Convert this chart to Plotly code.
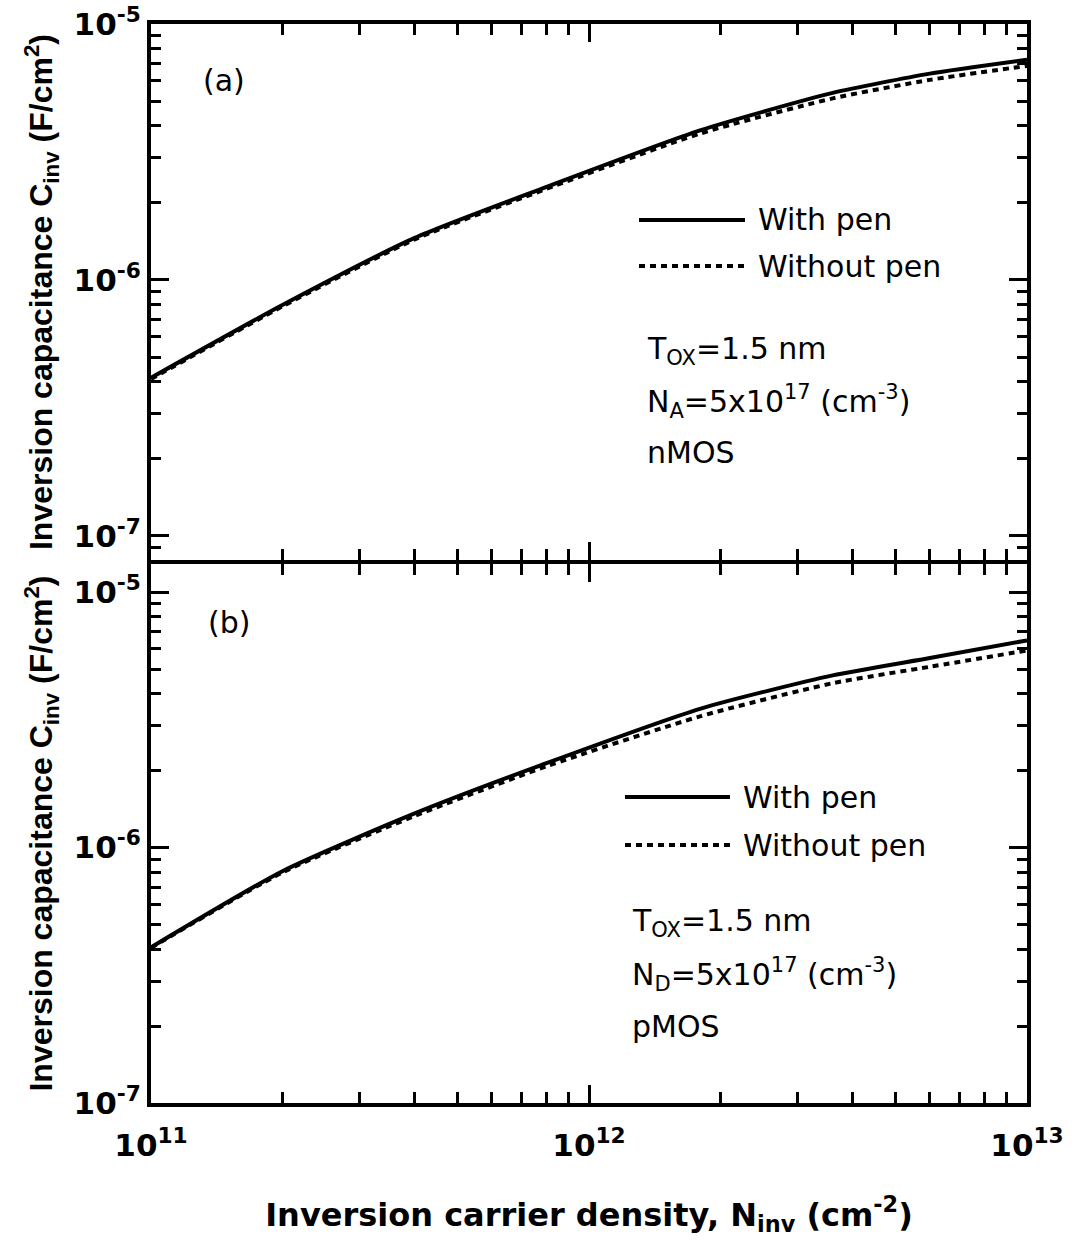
import plotly.graph_objects as go
from plotly.subplots import make_subplots

# Inversion carrier density (cm^-2)
n_inv = [1e11, 2e11, 4e11, 8e11, 1.8e12, 3.6e12, 6e12, 1e13]

# (a) nMOS, N_A = 5e17 cm^-3
c_nmos_with = [4.15e-7, 8.0e-7, 1.46e-6, 2.31e-6, 3.85e-6, 5.38e-6, 6.4e-6, 7.25e-6]
c_nmos_without = [4.1e-7, 7.9e-7, 1.44e-6, 2.27e-6, 3.74e-6, 5.12e-6, 6.05e-6, 6.86e-6]

# (b) pMOS, N_D = 5e17 cm^-3
c_pmos_with = [4.07e-7, 8.1e-7, 1.36e-6, 2.14e-6, 3.5e-6, 4.72e-6, 5.52e-6, 6.47e-6]
c_pmos_without = [4.05e-7, 8.0e-7, 1.33e-6, 2.08e-6, 3.27e-6, 4.4e-6, 5.1e-6, 5.91e-6]

y_tickvals = [1e-7, 1e-6, 1e-5]
y_ticktext = ["<b>10<sup>-7</sup></b>", "<b>10<sup>-6</sup></b>", "<b>10<sup>-5</sup></b>"]
x_tickvals = [1e11, 1e12, 1e13]
x_ticktext = ["<b>10<sup>11</sup></b>", "<b>10<sup>12</sup></b>", "<b>10<sup>13</sup></b>"]

W, H = 1083, 1244
ML, MR, MT, MB = 151, 56, 24, 141
PW, PH = W - ML - MR, H - MT - MB
LW = 4  # axis line width


def px(x):
    return (x - ML) / PW


def py(y):
    return (H - MB - y) / PH


def minor_vals(lo, hi):
    return [m * 10.0 ** e for e in range(lo, hi) for m in range(2, 10)]


fig = make_subplots(rows=2, cols=1, shared_xaxes=True, vertical_spacing=0)

solid = dict(color="black", width=4, shape="spline", smoothing=0.6)
dashed = dict(color="black", width=4, dash="6px,5px", shape="spline", smoothing=0.6)
key_solid = dict(color="black", width=4)
key_dashed = dict(color="black", width=4, dash="6px,5px")

fig.add_trace(go.Scatter(x=n_inv, y=c_nmos_with, mode="lines", line=solid,
                         name="With pen", showlegend=False), row=1, col=1)
fig.add_trace(go.Scatter(x=n_inv, y=c_nmos_without, mode="lines", line=dashed,
                         name="Without pen", showlegend=False), row=1, col=1)
fig.add_trace(go.Scatter(x=n_inv, y=c_pmos_with, mode="lines", line=solid,
                         name="With pen", showlegend=False), row=2, col=1)
fig.add_trace(go.Scatter(x=n_inv, y=c_pmos_without, mode="lines", line=dashed,
                         name="Without pen", showlegend=False), row=2, col=1)

# the two panels touch; their shared border is a single axis line
top_bottom_edge = 560
bot_top_edge = top_bottom_edge + LW

common_axis = dict(
    type="log", showline=True, linecolor="black", linewidth=LW, mirror="allticks",
    ticks="inside", ticklen=18, tickwidth=3, tickcolor="black",
    showgrid=False, zeroline=False,
)

tick_font = dict(family="DejaVu Sans", size=31, color="black")

fig.update_xaxes(
    **common_axis, range=[11, 13], tickvals=x_tickvals, ticktext=x_ticktext,
    minor=dict(tickmode="array", tickvals=minor_vals(11, 13), ticks="inside",
               ticklen=11, tickwidth=3, tickcolor="black", showgrid=False),
)
fig.update_xaxes(showticklabels=False, row=1, col=1)
fig.update_xaxes(
    showticklabels=True, tickfont=tick_font, ticklabelstandoff=12,
    title=dict(text="<b>Inversion carrier density, N<sub>inv</sub> (cm<sup>-2</sup>)</b>",
               font=dict(family="DejaVu Sans", size=32, color="black"), standoff=42),
    row=2, col=1,
)

ytitle = "<b>Inversion capacitance C<sub>inv</sub> (F/cm<sup>2</sup>)</b>"
fig.update_yaxes(
    **common_axis, tickvals=y_tickvals, ticktext=y_ticktext, tickfont=tick_font,
    minor=dict(tickmode="array", tickvals=minor_vals(-8, -4), ticks="inside",
               ticklen=10, tickwidth=3, tickcolor="black", showgrid=False),
    title=dict(text=ytitle, font=dict(family="Liberation Sans", size=32, color="black"),
               standoff=12),
)
fig.update_yaxes(range=[-7.094, -5.0], domain=[py(top_bottom_edge), 1.0], row=1, col=1)
fig.update_yaxes(range=[-7.0, -4.89], domain=[0.0, py(bot_top_edge)], row=2, col=1)
fig.update_xaxes(domain=[0, 1])

annotations = []
shapes = []


def add_text(text, x, y, size=30):
    annotations.append(dict(
        text=text, x=px(x), y=py(y), xref="paper", yref="paper",
        xanchor="left", yanchor="middle", showarrow=False,
        font=dict(family="DejaVu Sans", size=size, color="black"),
    ))


def add_key(x0, x1, y, line):
    shapes.append(dict(type="line", xref="paper", yref="paper",
                       x0=px(x0), x1=px(x1), y0=py(y), y1=py(y), line=line))


# panel (a) labels and key
add_text("(a)", 201, 80)
add_key(639, 745, 220, key_solid)
add_text("With pen", 756, 220)
add_key(639, 745, 266, key_dashed)
add_text("Without pen", 756, 266)
add_text("T<sub>OX</sub>=1.5 nm", 645, 350)
add_text("N<sub>A</sub>=5x10<sup>17</sup> (cm<sup>-3</sup>)", 645, 402)
add_text("nMOS", 645, 453)

# panel (b) labels and key
add_text("(b)", 206, 622)
add_key(625, 730, 797, key_solid)
add_text("With pen", 741, 797)
add_key(625, 730, 845, key_dashed)
add_text("Without pen", 741, 845)
add_text("T<sub>OX</sub>=1.5 nm", 630, 922)
add_text("N<sub>D</sub>=5x10<sup>17</sup> (cm<sup>-3</sup>)", 630, 975)
add_text("pMOS", 630, 1026)

fig.update_layout(
    width=W, height=H,
    margin=dict(l=ML, r=MR, t=MT, b=MB, autoexpand=False),
    paper_bgcolor="white", plot_bgcolor="white",
    showlegend=False,
    annotations=annotations, shapes=shapes,
)

fig.write_html("out.html")
